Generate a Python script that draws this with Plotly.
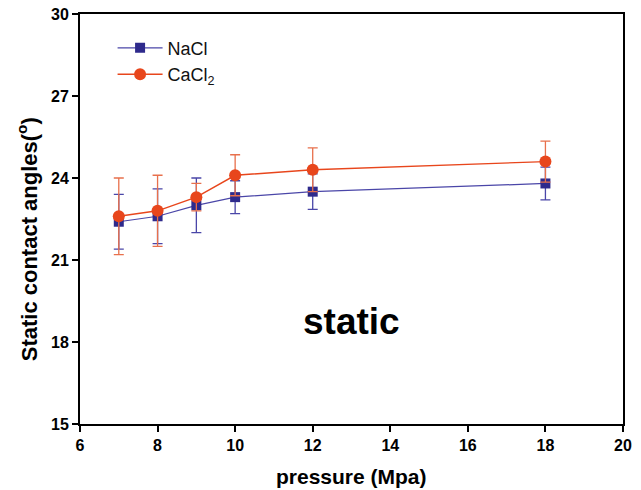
import plotly.graph_objects as go

pressure = [7, 8, 9, 10, 12, 18]
nacl = [22.4, 22.6, 23.0, 23.3, 23.5, 23.8]
nacl_err = [1.0, 1.0, 1.0, 0.6, 0.65, 0.6]
cacl2 = [22.6, 22.8, 23.3, 24.1, 24.3, 24.6]
cacl2_err = [1.4, 1.3, 0.5, 0.75, 0.8, 0.75]

x_ticks = [6, 8, 10, 12, 14, 16, 18, 20]
y_ticks = [15, 18, 21, 24, 27, 30]

blue = "#2e2a8c"
blue_line = "#4a46a8"
red = "#e8461c"
FONT = "Liberation Sans, Arial"

fig = go.Figure()
fig.add_trace(go.Scatter(
    x=pressure, y=nacl, name="NaCl", mode="lines+markers",
    line=dict(color=blue_line, width=1.2),
    marker=dict(symbol="square", size=10, color=blue),
    error_y=dict(type="data", array=nacl_err, color=blue_line, thickness=1.3, width=5),
))
fig.add_trace(go.Scatter(
    x=pressure, y=cacl2, name="CaCl<sub>2</sub>", mode="lines+markers",
    line=dict(color=red, width=1.4),
    marker=dict(symbol="circle", size=12, color=red),
    error_y=dict(type="data", array=cacl2_err, color="#e8704c", thickness=1.3, width=5),
))

fig.add_annotation(x=13.0, y=18.75, text="<b>static</b>", showarrow=False,
                   font=dict(family=FONT, size=37, color="black"))
fig.add_annotation(xref="paper", yref="paper", x=0.5, y=-0.128,
                   xanchor="center", yanchor="middle",
                   text="<b>pressure (Mpa)</b>", showarrow=False,
                   font=dict(family=FONT, size=21, color="black"))
fig.add_annotation(xref="paper", yref="paper", x=-0.098, y=0.45, textangle=-90,
                   xanchor="center", yanchor="middle",
                   text="<b>Static contact angles(<sup>o</sup>)</b>", showarrow=False,
                   font=dict(family=FONT, size=22, color="black"))

fig.update_layout(
    width=641, height=490,
    margin=dict(l=80, r=18, t=14, b=66, autoexpand=False),
    paper_bgcolor="white", plot_bgcolor="white",
    font=dict(family=FONT, color="black"),
    showlegend=True,
    legend=dict(x=0.06, y=0.962, xanchor="left", yanchor="top",
                bgcolor="rgba(0,0,0,0)", font=dict(size=18, color="#111111"),
                tracegroupgap=0, itemwidth=45),
    xaxis=dict(range=[6, 20], tickvals=x_ticks,
               ticktext=[str(v) for v in x_ticks],
               ticks="outside", ticklen=6, automargin=False,
               tickwidth=2, tickcolor="black", showline=True, linewidth=2,
               linecolor="black", mirror=True, showgrid=False, zeroline=False,
               tickfont=dict(size=16, family=FONT, color="black", weight="bold")),
    yaxis=dict(range=[15, 30], tickvals=y_ticks,
               ticktext=[str(v) for v in y_ticks],
               ticks="outside", ticklen=6, automargin=False,
               tickwidth=2, tickcolor="black", showline=True, linewidth=2,
               linecolor="black", mirror=True, showgrid=False, zeroline=False,
               tickfont=dict(size=16, family=FONT, color="black", weight="bold")),
)

fig.write_html("out.html")
